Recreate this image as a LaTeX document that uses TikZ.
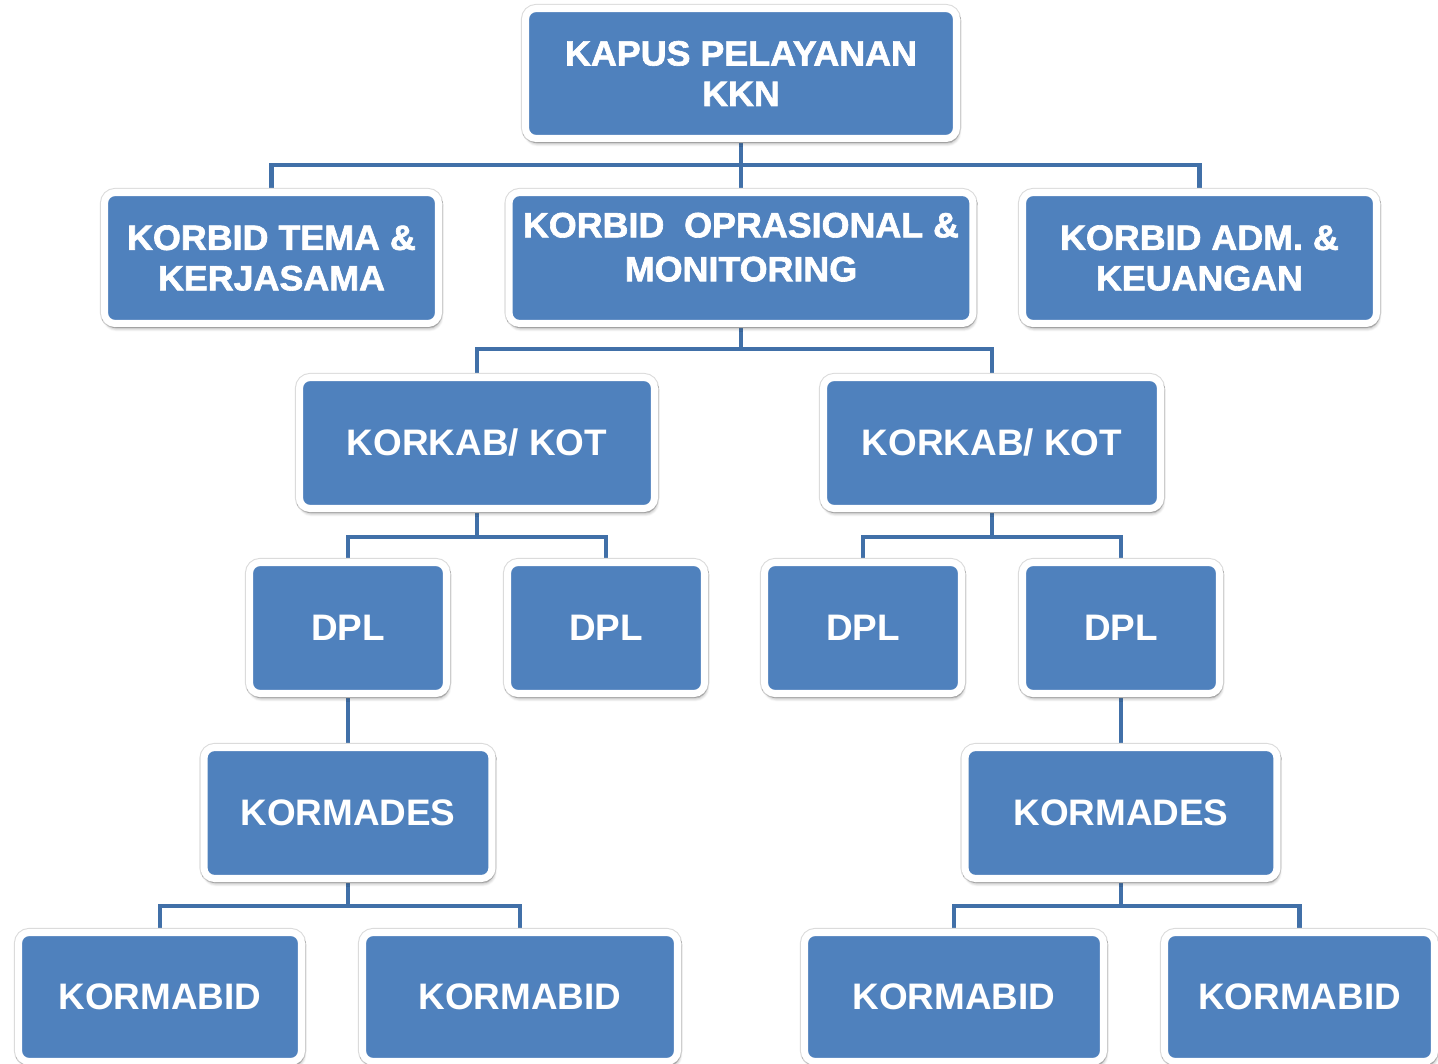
\documentclass[tikz,border=0pt]{standalone}
\usepackage{fontspec}
\setmainfont{Liberation Sans}
\newfontfamily\heavyfont{Liberation Sans Bold}[FakeBold=1.8, FakeStretch=1.02]
\usetikzlibrary{positioning, shadows.blur, backgrounds}
\definecolor{boxblue}{HTML}{4F81BD}
\definecolor{linkblue}{HTML}{4170A8}

\begin{document}
\begin{tikzpicture}[
        x=0.02cm, y=-0.02cm,
        font=\bfseries\fontsize{21}{25}\selectfont,
        base/.style={draw=white, line width=4pt, fill=boxblue, text=white, align=center,
            rounded corners=6pt, inner sep=2pt, minimum height=2.62cm,
            preaction={draw=black!14, line width=5.2pt},
            blur shadow={shadow xshift=0.8pt, shadow yshift=-2.5pt, shadow blur steps=6,
                shadow blur extra rounding=2pt, shadow opacity=45}},
        head/.style={base, font=\heavyfont\mdseries\fontsize{20}{23}\selectfont},
        unit/.style={base},
        link/.style={draw=linkblue, line width=2.8pt},
    ]
    \useasboundingbox (0,0) rectangle (1438,1064);

    % Nodes
    \node[head, minimum width=8.62cm, minimum height=2.6cm] (kapus) at (741,73.5) {KAPUS PELAYANAN\\KKN};
    \node[head, minimum width=6.68cm] (tema) at (271.5,258) {KORBID TEMA \&\\KERJASAMA};
    \node[head, minimum width=9.28cm, font=\heavyfont\mdseries\fontsize{20}{25}\selectfont] (oprasional) at (741,258) {KORBID\ \ OPRASIONAL \&\\MONITORING\\[-20pt]\strut};
    \node[head, minimum width=7.08cm] (adm) at (1199.5,258) {KORBID ADM. \&\\KEUANGAN};

    \node[unit, minimum width=7.1cm] (korkabA) at (477,443) {KORKAB/ KOT};
    \node[unit, minimum width=6.74cm] (korkabB) at (992,443) {KORKAB/ KOT};

    \node[unit, minimum width=3.94cm] (dplA) at (348,628) {DPL};
    \node[unit, minimum width=3.94cm] (dplB) at (606,628) {DPL};
    \node[unit, minimum width=3.94cm] (dplC) at (863,628) {DPL};
    \node[unit, minimum width=3.94cm] (dplD) at (1121,628) {DPL};

    \node[unit, minimum width=5.76cm] (kormadesA) at (348,813) {KORMADES};
    \node[unit, minimum width=6.24cm] (kormadesB) at (1121,813) {KORMADES};

    \node[unit, minimum width=5.66cm, minimum height=2.58cm] (kormabidA) at (160,997) {KORMABID};
    \node[unit, minimum width=6.3cm, minimum height=2.58cm] (kormabidB) at (520,997) {KORMABID};
    \node[unit, minimum width=5.98cm, minimum height=2.58cm] (kormabidC) at (954,997) {KORMABID};
    \node[unit, minimum width=5.4cm, minimum height=2.58cm] (kormabidD) at (1299.5,997) {KORMABID};

    % Bus points
    \coordinate (busA) at (741,165);
    \coordinate (busB) at (741,349);
    \coordinate (busC) at (477,537);
    \coordinate (busD) at (992,537);
    \coordinate (busE) at (348,906);
    \coordinate (busF) at (1121,906);

    % Arrows
    \begin{scope}[on background layer]
    \draw[link] (kapus) -- (busA);
    \draw[link] (busA) -| (tema);
    \draw[link] (busA) -- (oprasional);
    \draw[link] (busA) -| (adm);

    \draw[link] (oprasional) -- (busB);
    \draw[link] (busB) -| (korkabA);
    \draw[link] (busB) -| (korkabB);

    \draw[link] (korkabA) -- (busC);
    \draw[link] (busC) -| (dplA);
    \draw[link] (busC) -| (dplB);
    \draw[link] (korkabB) -- (busD);
    \draw[link] (busD) -| (dplC);
    \draw[link] (busD) -| (dplD);

    \draw[link] (dplA) -- (kormadesA);
    \draw[link] (dplD) -- (kormadesB);

    \draw[link] (kormadesA) -- (busE);
    \draw[link] (busE) -| (kormabidA);
    \draw[link] (busE) -| (kormabidB);
    \draw[link] (kormadesB) -- (busF);
    \draw[link] (busF) -| (kormabidC);
    \draw[link] (busF) -| (kormabidD);
    \end{scope}

    \end{tikzpicture}
\end{document}
